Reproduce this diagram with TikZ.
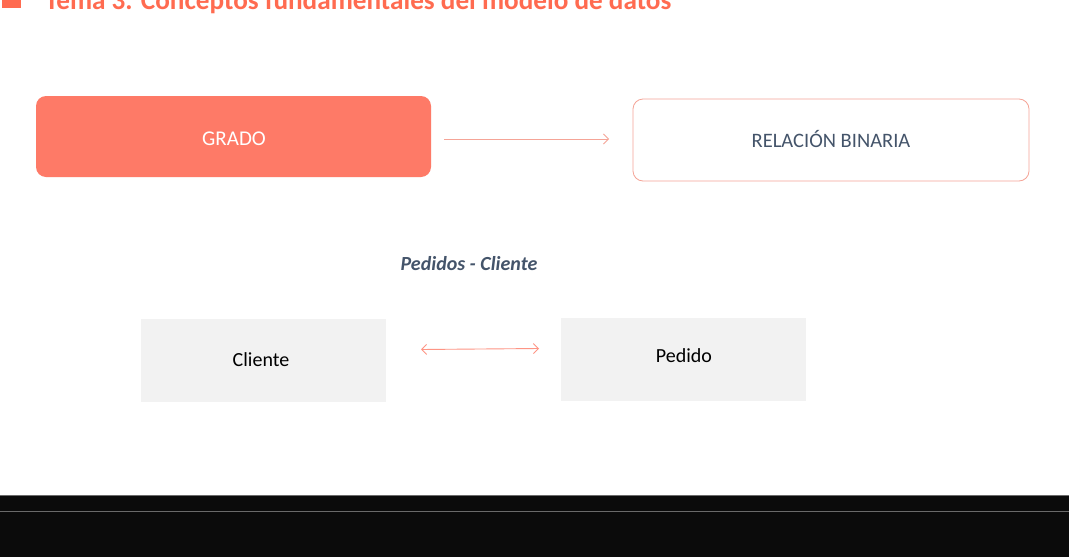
\documentclass[tikz,border=0pt]{standalone}
\usepackage{fontspec}
\setmainfont{Carlito}
\usetikzlibrary{arrows.meta}
\definecolor{salmon}{HTML}{FE7A67}
\definecolor{title}{HTML}{FF6B50}
\definecolor{lightsalmon}{HTML}{F5A497}
\definecolor{slate}{HTML}{44546A}
\definecolor{boxgray}{HTML}{F2F2F2}
\definecolor{band}{HTML}{0B0B0B}
\definecolor{bandline}{HTML}{6A6A6A}
\tikzset{
  bigbox/.style={rounded corners=10pt, minimum width=395pt, minimum height=81pt, inner sep=0pt, font=\fontsize{21}{24}\selectfont},
  graybox/.style={fill=boxgray, minimum width=245pt, minimum height=83pt, inner sep=0pt},
  conn/.style={draw=lightsalmon, line width=0.8pt},
}
\begin{document}
\begin{tikzpicture}[x=1pt,y=-1pt]
\useasboundingbox (0,0) rectangle (1069,557);
\clip (0,0) rectangle (1069,557);
\fill[white] (0,0) rectangle (1069,557);
% title
\fill[title] (2,-5) rectangle (21,8);
\node[anchor=base west, inner sep=0pt, text=title, font=\fontsize{27.2}{30}\selectfont\bfseries] (ttl) at (45,9) {Tema 3. Conceptos fundamentales del modelo de datos};
% top boxes
\node[bigbox, fill=salmon] (grado) at (233.5,136.5) {};
\node[text=white, font=\fontsize{21}{24}\selectfont] (gradot) at (234,139) {GRADO};
\node[bigbox, draw=lightsalmon, line width=0.8pt, fill=white, minimum width=396pt, minimum height=82pt] (rel) at (831,140) {};
\node[text=slate, font=\fontsize{20.5}{24}\selectfont] (relt) at (831,139) {RELACIÓN BINARIA};
\coordinate (a1) at (444,139);
\coordinate (a2) at (609,139);
\draw[conn, -{Straight Barb[length=5pt,width=10pt]}] (a1) -- (a2);
% subtitle
\node[text=slate, font=\fontsize{20}{24}\selectfont\bfseries\itshape] (sub) at (469,264) {Pedidos - Cliente};
% bottom boxes
\node[graybox] (cli) at (263.5,360.5) {};
\node[font=\fontsize{20}{24}\selectfont] (clit) at (261,360) {Cliente};
\node[graybox] (ped) at (683.5,359.5) {};
\node[font=\fontsize{20}{24}\selectfont] (pedt) at (684,356) {Pedido};
\coordinate (b1) at (421,349.5);
\coordinate (b2) at (539,348.5);
\draw[draw=salmon!80, line width=0.9pt, {Straight Barb[length=5pt,width=10pt]}-{Straight Barb[length=5pt,width=10pt]}] (b1) -- (b2);
% bottom band
\fill[band] (0,495) rectangle (1069,557);
\draw[bandline, line width=1pt] (0,495.5) -- (1069,495.5);
\draw[bandline, line width=1pt] (0,511.5) -- (1069,511.5);
\end{tikzpicture}
\end{document}
